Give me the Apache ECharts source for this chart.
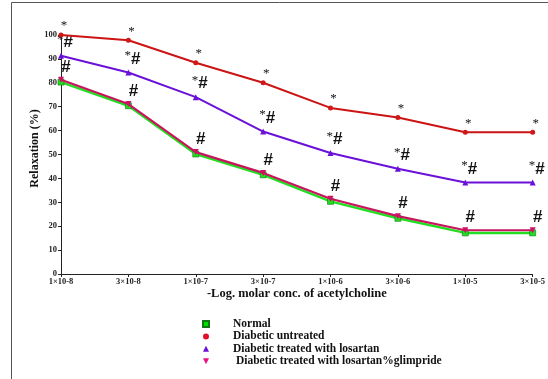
<!DOCTYPE html>
<html>
<head>
<meta charset="utf-8">
<script src="https://cdn.jsdelivr.net/npm/echarts@6/dist/echarts.min.js"></script>
<style>
  html, body { margin: 0; padding: 0; background: #fff; }
  #chart { width: 548px; height: 379px; }
</style>
</head>
<body>
<div id="chart"></div>
<script>
// Acetylcholine concentrations (category axis)
const concentrations = ['1×10-8', '3×10-8', '1×10-7', '3×10-7', '1×10-6', '3×10-6', '1×10-5', '3×10-5'];
const yTicks = [0, 10, 20, 30, 40, 50, 60, 70, 80, 90, 100];

// Relaxation (%) per group
const normal = [80.3, 70.4, 50.2, 41.5, 30.4, 23.3, 17.2, 17.2];
const diabeticUntreated = [100, 97.8, 88.4, 80, 69.5, 65.5, 59.3, 59.3];
const losartan = [91.3, 84.3, 74, 59.6, 50.6, 44, 38.3, 38.3];
const losartanGlimepiride = [81.3, 71.1, 51, 42.3, 31.5, 24.2, 18.3, 18.3];

const seriesNames = [
  'Normal',
  'Diabetic untreated',
  'Diabetic treated with losartan',
  ' Diabetic treated with losartan%glimpride'
];

const serif = '"Liberation Serif", "DejaVu Serif", serif';
// significance marks: * vs normal, # vs diabetic untreated
const richMarks = {
  s: { fontSize: 13, fontFamily: serif, color: '#111', verticalAlign: 'top', padding: [0, 0, 6, 0] },
  h: { fontSize: 17, fontWeight: 'bold', fontFamily: 'Liberation Sans, Arial, sans-serif', color: '#111' }
};
const invTriangle = 'path://M0,0L10,0L5,10Z';

const chart = echarts.init(document.getElementById('chart'), null, { renderer: 'canvas' });

chart.setOption({
  animation: false,
  backgroundColor: '#fff',
  grid: { left: 61, right: 11, top: 35, bottom: 105 },
  legend: {
    orient: 'vertical',
    left: 197,
    top: 313,
    itemWidth: 6,
    itemHeight: 6,
    itemGap: 0.4,
    selectedMode: false,
    formatter: name => '{t|' + name + '}',
    textStyle: {
      fontFamily: serif, fontWeight: 'bold', fontSize: 11.5, color: '#111',
      rich: { t: { fontFamily: serif, fontWeight: 'bold', fontSize: 11.5, color: '#111', padding: [0, 0, 0, 19], lineHeight: 12 } }
    },
    data: [
      { name: seriesNames[0], icon: 'rect', itemStyle: { color: '#00dd00' } },
      { name: seriesNames[1], icon: 'circle', itemStyle: { color: '#e0102a' } },
      { name: seriesNames[2], icon: 'triangle', itemStyle: { color: '#6a10d8' } },
      { name: seriesNames[3], icon: invTriangle, itemStyle: { color: '#ee1080' } }
    ]
  },
  xAxis: {
    type: 'category',
    data: concentrations,
    boundaryGap: false,
    name: '-Log. molar conc. of acetylcholine',
    nameLocation: 'middle',
    nameGap: 13,
    nameMoveOverlap: false,
    nameTextStyle: { fontFamily: serif, fontWeight: 'bold', fontSize: 12.5, color: '#111' },
    axisLine: { lineStyle: { color: '#222', width: 1 } },
    axisTick: { show: true, length: 3, alignWithLabel: true, lineStyle: { color: '#222' } },
    axisLabel: { fontFamily: serif, fontWeight: 'bold', fontSize: 8.5, color: '#222', margin: 3 },
    splitLine: { show: false }
  },
  yAxis: {
    type: 'value',
    min: 0,
    max: 100,
    interval: 10,
    name: 'Relaxation (%)',
    nameLocation: 'middle',
    nameGap: 20,
    nameMoveOverlap: false,
    nameRotate: 90,
    nameTextStyle: { fontFamily: serif, fontWeight: 'bold', fontSize: 12, color: '#111', padding: [0, 0, 0, 12] },
    axisLine: { show: true, lineStyle: { color: '#222', width: 1 } },
    axisTick: { show: true, length: 3, lineStyle: { color: '#222' } },
    axisLabel: {
      fontFamily: serif, fontWeight: 'bold', fontSize: 8.5, color: '#222', margin: 4,
      formatter: v => yTicks.includes(v) ? String(v) : ''
    },
    splitLine: { show: false }
  },
  series: [
    {
      name: seriesNames[0],
      type: 'line',
      data: normal,
      symbol: 'rect',
      symbolSize: 6,
      z: 2,
      itemStyle: { color: '#22dd22', borderColor: '#117711', borderWidth: 0.6 },
      lineStyle: { color: '#22dd22', width: 2.5 }
    },
    {
      name: seriesNames[3],
      type: 'line',
      data: losartanGlimepiride,
      symbol: invTriangle,
      symbolSize: 6,
      z: 3,
      itemStyle: { color: '#cc1166' },
      lineStyle: { color: '#c8145e', width: 2.2 },
      label: { show: true, position: 'top', distance: 1, offset: [5, 0], formatter: '{h|#}', rich: richMarks }
    },
    {
      name: seriesNames[2],
      type: 'line',
      data: losartan,
      symbol: 'triangle',
      symbolSize: 6,
      z: 4,
      itemStyle: { color: '#6a10d8' },
      lineStyle: { color: '#6a10d8', width: 2 },
      label: { show: true, position: 'top', distance: 1, offset: [4, 0], formatter: '{s|*}{h|#}', rich: richMarks }
    },
    {
      name: seriesNames[1],
      type: 'line',
      data: diabeticUntreated,
      symbol: 'circle',
      symbolSize: 5,
      z: 5,
      itemStyle: { color: '#d01818' },
      lineStyle: { color: '#cc1414', width: 2 },
      label: { show: true, position: 'top', distance: 0, offset: [3, 6], formatter: '{s|*}', rich: richMarks }
    }
  ],
  graphic: [
    {
      type: 'polyline',
      silent: true,
      shape: { points: [[11.5, 379], [11.5, 2.5], [548, 2.5]] },
      style: { stroke: '#555', lineWidth: 1, fill: null }
    }
  ]
});
</script>
</body>
</html>
